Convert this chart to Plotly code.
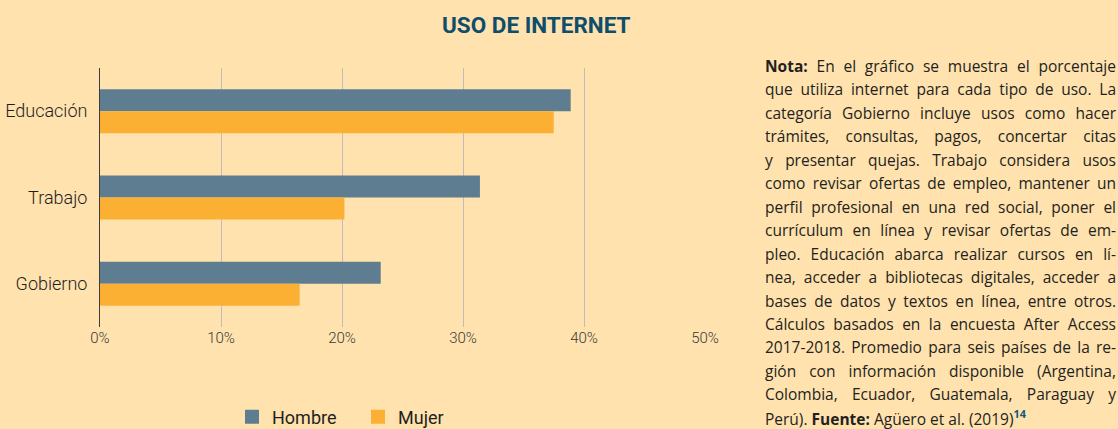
import plotly.graph_objects as go

categories = ["Educación", "Trabajo", "Gobierno"]
hombre = [38.9, 31.4, 23.2]
mujer = [37.5, 20.2, 16.5]
x_ticks = [0, 10, 20, 30, 40, 50]
x_tick_labels = ["0%", "10%", "20%", "30%", "40%", "50%"]

note_lines = [
    "<b>Nota:</b> En el gráfico se muestra el porcentaje",
    "que utiliza internet para cada tipo de uso. La",
    "categoría Gobierno incluye usos como hacer",
    "trámites, consultas, pagos, concertar citas",
    "y presentar quejas. Trabajo considera usos",
    "como revisar ofertas de empleo, mantener un",
    "perfil profesional en una red social, poner el",
    "currículum en línea y revisar ofertas de em-",
    "pleo. Educación abarca realizar cursos en lí-",
    "nea, acceder a bibliotecas digitales, acceder a",
    "bases de datos y textos en línea, entre otros.",
    "Cálculos basados en la encuesta After Access",
    "2017-2018. Promedio para seis países de la re-",
    "gión con información disponible (Argentina,",
    "Colombia, Ecuador, Guatemala, Paraguay y",
    "Perú). <b>Fuente:</b> Agüero et al. (2019)<sup><b><span style='color:#0E5A7E'>14</span></b></sup>",
]

BG = "#FFE2AE"
W, H = 1118, 429
ML, MR, MT, MB = 100, 413, 68, 102
PW = W - ML - MR
PH = H - MT - MB
HOMBRE_C = "#5F7D91"
MUJER_C = "#FBB034"

cond = "Roboto, sans-serif"

fig = go.Figure()
fig.add_trace(go.Bar(y=categories, x=hombre, name="Hombre", orientation="h", showlegend=False,
                     marker=dict(color=HOMBRE_C, line=dict(width=0))))
fig.add_trace(go.Bar(y=categories, x=mujer, name="Mujer", orientation="h", showlegend=False,
                     marker=dict(color=MUJER_C, line=dict(width=0))))
# legend entries with larger square symbols
for nm, col in [("Hombre", HOMBRE_C), ("Mujer", MUJER_C)]:
    fig.add_trace(go.Scatter(x=[None], y=[None], mode="markers", name=nm,
                             marker=dict(symbol="square", size=14, color=col, line=dict(width=0))))

annotations = [dict(text="<b>USO DE INTERNET</b>", xref="paper", yref="paper",
                    x=(536 - ML) / PW, y=(H - MB - 25) / PH,
                    xanchor="center", yanchor="middle", showarrow=False,
                    font=dict(family="Roboto", size=22.5, color="#0E4D6C"))]

for i, line in enumerate(note_lines):
    ypix = 66 + i * 23.45
    annotations.append(dict(text=line, xref="paper", yref="paper",
                            x=(763 - ML) / PW, y=(H - MB - ypix) / PH,
                            xanchor="left", yanchor="middle", showarrow=False, align="left",
                            font=dict(family="Open Sans", size=15.5, color="#231F20")))

fig.update_layout(
    width=W, height=H,
    margin=dict(l=ML, r=MR, t=MT, b=MB, autoexpand=False),
    paper_bgcolor=BG, plot_bgcolor=BG,
    barmode="group", bargap=0.49, bargroupgap=0,
    showlegend=True,
    legend=dict(orientation="h", x=(232 - ML) / PW, y=(H - MB - 417) / PH,
                xanchor="left", yanchor="middle", bgcolor="rgba(0,0,0,0)",
                font=dict(family=cond, size=18, color="#231F20"),
                traceorder="normal", itemwidth=30, entrywidth=81),
    xaxis=dict(range=[0, 50], tickvals=x_ticks, ticktext=x_tick_labels,
               showgrid=True, gridcolor="#BDBDBD", gridwidth=1, zeroline=False,
               showline=False, ticks="", automargin=False,
               tickfont=dict(family=cond, size=15, color="#3a3a3a", weight=300)),
    yaxis=dict(autorange="reversed", showgrid=False, zeroline=False,
               showline=True, linecolor="#3C3C3C", linewidth=1, ticks="",
               ticklabelstandoff=8, automargin=False,
               tickfont=dict(family=cond, size=18, color="#1E1E1E", weight=300)),
    annotations=annotations,
)

post = """
document.body.style.margin='0';
document.body.style.background='%s';
var texts = document.querySelectorAll('text.annotation-text');
var target = 351;
for (var i = 1; i < texts.length - 1; i++) {
  var t = texts[i];
  var w = t.getComputedTextLength();
  var n = (t.textContent.match(/ /g) || []).length;
  if (n > 0 && w < target) {
    t.style.wordSpacing = ((target - w) / n) + 'px';
  }
}
""" % BG

fig.write_html("out.html", config={"displayModeBar": False}, post_script=post)
